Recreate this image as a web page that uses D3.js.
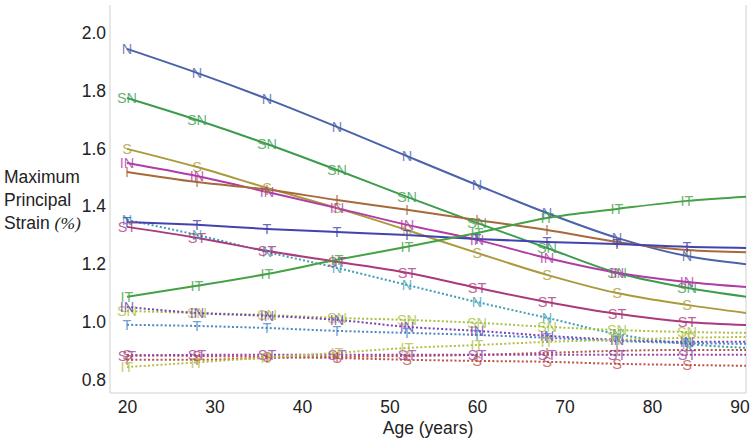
<!DOCTYPE html>
<html><head><meta charset="utf-8">
<script src="https://cdn.jsdelivr.net/npm/d3@7"></script>
<style>html,body{margin:0;padding:0;background:#fff;}svg{display:block;}</style>
</head><body><svg id="c" width="750" height="441"></svg>
<script>
const ages = [20, 28, 36, 44, 52, 60, 68, 76, 84, 91];
const markerCount = 9;
const xTicks = [20, 30, 40, 50, 60, 70, 80, 90];
const yTicks = [0.8, 1.0, 1.2, 1.4, 1.6, 1.8, 2.0];

const labels = ["N", "SN", "S", "IN", "I", "T", "ST", "IT"];

// solid lines
const solidN  = [1.945, 1.862, 1.772, 1.675, 1.574, 1.474, 1.377, 1.291, 1.228, 1.199];
const solidSN = [1.775, 1.699, 1.616, 1.526, 1.433, 1.343, 1.256, 1.170, 1.118, 1.086];
const solidS  = [1.599, 1.536, 1.464, 1.394, 1.318, 1.239, 1.163, 1.100, 1.059, 1.030];
const solidIN = [1.550, 1.505, 1.450, 1.394, 1.336, 1.284, 1.221, 1.170, 1.138, 1.120];
const solidI  = [1.519, 1.484, 1.458, 1.422, 1.388, 1.353, 1.318, 1.277, 1.249, 1.241];
const solidT  = [1.346, 1.336, 1.322, 1.311, 1.301, 1.287, 1.277, 1.270, 1.260, 1.256];
const solidST = [1.329, 1.291, 1.246, 1.208, 1.170, 1.118, 1.069, 1.028, 1.000, 0.989];
const solidIT = [1.087, 1.125, 1.166, 1.215, 1.260, 1.308, 1.360, 1.391, 1.419, 1.434];

// dotted lines
const dotN  = [1.353, 1.301, 1.242, 1.187, 1.128, 1.069, 1.014, 0.958, 0.924, 0.910];
const dotIN = [1.052, 1.031, 1.021, 1.007, 0.983, 0.969, 0.952, 0.938, 0.931, 0.931];
const dotSN = [1.038, 1.031, 1.024, 1.014, 1.007, 0.997, 0.983, 0.972, 0.965, 0.962];
const dotT  = [0.990, 0.986, 0.979, 0.969, 0.962, 0.955, 0.945, 0.934, 0.927, 0.924];
const dotST = [0.882, 0.886, 0.886, 0.886, 0.886, 0.886, 0.886, 0.886, 0.886, 0.886];
const dotS  = [0.886, 0.882, 0.879, 0.875, 0.869, 0.865, 0.862, 0.855, 0.851, 0.848];
const dotI  = [0.869, 0.869, 0.875, 0.879, 0.882, 0.886, 0.893, 0.900, 0.903, 0.903];
const dotIT = [0.844, 0.860, 0.877, 0.893, 0.910, 0.920, 0.931, 0.938, 0.945, 0.948];

const solidColors  = ["#4a62aa", "#3c9c4e", "#ab9a3c", "#b03ca6", "#a8693a", "#4242b0", "#ab3a7c", "#44a244"];
const dottedColors = ["#3f9fb5", "#a6c240", "#c0504a", "#7a42b2", "#b0584a", "#4a88c4", "#9a42a8", "#b4c040"];

const solidSeries  = [solidN, solidSN, solidS, solidIN, solidI, solidT, solidST, solidIT];
const dottedSeries = [dotN, dotSN, dotS, dotIN, dotI, dotT, dotST, dotIT];

const svg = d3.select("#c");
const L = 110, R = 746, T = 5, B = 393;
const x = d3.scaleLinear().domain([18.06, 90.74]).range([L, R]);
const y = d3.scaleLinear().domain([0.754, 2.097]).range([B, T]);

svg.append("defs").append("clipPath").attr("id", "clip")
  .append("rect").attr("x", L).attr("y", T).attr("width", R - L).attr("height", B - T);

// frame
svg.append("path").attr("d", `M${L},${T}V${B}H${R}V${T}`)
  .attr("fill", "none").attr("stroke", "#cfcfcf").attr("stroke-width", 1);

const font = "'Liberation Sans', Arial, sans-serif";

const yAxis = svg.append("g").attr("transform", `translate(${L},0)`)
  .call(d3.axisLeft(y).tickValues(yTicks).tickFormat(d3.format(".1f")).tickSize(0).tickPadding(4));
const xAxis = svg.append("g").attr("transform", `translate(0,${B})`)
  .call(d3.axisBottom(x).tickValues(xTicks).tickFormat(d3.format("d")).tickSize(0).tickPadding(8));
[yAxis, xAxis].forEach(a => {
  a.select(".domain").remove();
  a.selectAll("text").attr("font-family", font).attr("font-size", 17.5).attr("fill", "#222");
});

svg.append("text").attr("x", (L + R) / 2).attr("y", 434).attr("text-anchor", "middle")
  .attr("font-family", font).attr("font-size", 17.5).attr("fill", "#222").text("Age (years)");

const yt = svg.append("text").attr("font-family", font).attr("font-size", 17.5).attr("fill", "#222");
yt.append("tspan").attr("x", 4).attr("y", 183).text("Maximum");
yt.append("tspan").attr("x", 4).attr("y", 206).text("Principal");
const t3 = yt.append("tspan").attr("x", 4).attr("y", 229);
t3.text("Strain ");
yt.append("tspan").attr("font-family", "'Liberation Serif', serif").attr("font-style", "italic").text("(%)");

const line = d3.line().x((d, i) => x(ages[i])).y(d => y(d)).curve(d3.curveMonotoneX);
const plot = svg.append("g").attr("clip-path", "url(#clip)");

dottedSeries.forEach((s, k) => {
  plot.append("path").attr("d", line(s)).attr("fill", "none")
    .attr("stroke", dottedColors[k]).attr("stroke-width", 2).attr("stroke-dasharray", "2,2.2");
});
solidSeries.forEach((s, k) => {
  plot.append("path").attr("d", line(s)).attr("fill", "none")
    .attr("stroke", solidColors[k]).attr("stroke-width", 2);
});

function markers(series, colors) {
  series.forEach((s, k) => {
    plot.selectAll(null).data(s.slice(0, markerCount)).enter().append("text")
      .attr("x", (d, i) => x(ages[i])).attr("y", d => y(d))
      .attr("dy", "0.36em").attr("text-anchor", "middle")
      .attr("font-family", font).attr("font-size", 14.5)
      .attr("fill", colors[k]).attr("fill-opacity", 0.8)
      .text(labels[k]);
  });
}
markers(dottedSeries, dottedColors);
markers(solidSeries, solidColors);
</script></body></html>
